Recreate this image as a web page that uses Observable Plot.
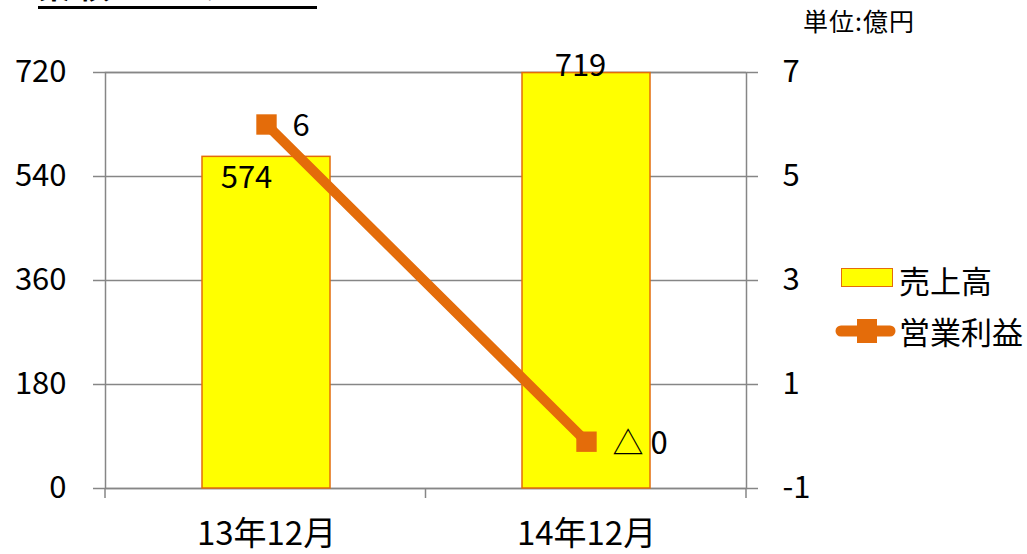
<!DOCTYPE html>
<html><head><meta charset="utf-8">
<script src="https://cdn.jsdelivr.net/npm/d3@7"></script>
<script src="https://cdn.jsdelivr.net/npm/@observablehq/plot@0.6"></script>
<style>
body{margin:0;background:#fff;}
#wrap{position:relative;width:1027px;height:554px;overflow:hidden;font-family:"Noto Sans CJK JP",sans-serif;color:#000;}
#wrap > svg{position:absolute;left:0;top:0;}
.abs{position:absolute;white-space:nowrap;}
#title{left:38px;top:-30px;height:36px;line-height:29px;font-size:32px;font-weight:bold;letter-spacing:8px;border-bottom:3px solid #000;}
#unit{left:803px;top:5px;font-size:25px;line-height:30px;letter-spacing:1px;}
.legtext{font-size:31px;line-height:36px;}
</style></head><body><div id="wrap"></div>
<script>
// ---- data ----
const categories = ["13年12月", "14年12月"];
const sales = [574, 719];            // 売上高 (left axis, 億円)
const profit = [6, -0.1];            // 営業利益 (right axis, 億円)
const leftTicks = [0, 180, 360, 540, 720];
const rightTicks = [-1, 1, 3, 5, 7];
const seriesNames = ["売上高", "営業利益"];
const unitLabel = "単位:億円";
const titleText = "業績ハイライト";

// ---- axis mapping (right axis drawn on the left scale) ----
const L_MIN = leftTicks[0], L_MAX = leftTicks[leftTicks.length - 1];
const R_MIN = rightTicks[0], R_MAX = rightTicks[rightTicks.length - 1];
const toLeft = p => L_MIN + (p - R_MIN) * (L_MAX - L_MIN) / (R_MAX - R_MIN);
const fromLeft = v => R_MIN + (v - L_MIN) * (R_MAX - R_MIN) / (L_MAX - L_MIN);

const rows = categories.map((c, i) => ({cat: c, sales: sales[i], profit: profit[i], py: toLeft(profit[i])}));
const fmtProfit = p => p < 0 ? "△ " + Math.abs(Math.round(p)) : String(Math.round(p));

const orange = "#E46C0A", grid = "#868686", yellow = "#FFFF00";
const font = '"Noto Sans CJK JP", sans-serif';

const bottomTicks = (index, scales, values, dims) => {
  const {width, height, marginLeft, marginRight, marginBottom} = dims;
  const y0 = height - marginBottom;
  const n = categories.length;
  const step = (width - marginLeft - marginRight) / n;
  const g = d3.create("svg:g");
  for (let k = 0; k <= n; k++) {
    const x = marginLeft + k * step;
    g.append("line").attr("x1", x).attr("x2", x).attr("y1", y0).attr("y2", y0 + 10)
      .attr("stroke", grid).attr("stroke-width", 1.5);
  }
  return g.node();
};

const chart = Plot.plot({
  width: 1027, height: 554,
  marginLeft: 105, marginRight: 281, marginTop: 72, marginBottom: 66,
  style: {fontFamily: font, fontSize: "31px", color: "#000", background: "transparent", overflow: "visible"},
  x: {domain: categories, paddingInner: 0.6, paddingOuter: 0.3, label: null},
  y: {domain: [L_MIN, L_MAX], label: null},
  marks: [
    Plot.gridY(leftTicks, {stroke: grid, strokeOpacity: 1, strokeWidth: 1.5}),
    Plot.frame({stroke: grid, strokeWidth: 1.5}),
    bottomTicks,
    Plot.axisY(leftTicks, {anchor: "left", tickSize: 12, tickPadding: 27, stroke: grid, strokeWidth: 1.5, fontSize: 31, label: null}),
    Plot.axisY(leftTicks, {anchor: "right", tickSize: 11, tickPadding: 25, stroke: grid, strokeWidth: 1.5, fontSize: 31, label: null,
      tickFormat: v => String(fromLeft(v))}),
    Plot.axisX({tickSize: 0, tickPadding: 33, fontSize: 33, label: null}),
    Plot.barY(rows, {x: "cat", y: "sales", fill: yellow, stroke: orange, strokeWidth: 1.5}),
    Plot.line(rows, {x: "cat", y: "py", stroke: orange, strokeWidth: 10}),
    Plot.dot(rows, {x: "cat", y: "py", symbol: "square", r: 11.5, fill: orange, stroke: null}),
    Plot.text(rows.filter((d, i) => i === 0), {x: "cat", y: "sales", text: d => String(d.sales), dx: -20, dy: 21, fontSize: 31}),
    Plot.text(rows.filter((d, i) => i === 1), {x: "cat", y: "sales", text: d => String(d.sales), dx: -6, dy: -7, fontSize: 31}),
    Plot.text(rows, {x: "cat", y: "py", text: d => fmtProfit(d.profit), textAnchor: "start", dx: 26, dy: 2, fontSize: 31})
  ]
});

const wrap = document.getElementById("wrap");
wrap.appendChild(chart);

function addDiv(cls, id, text, css) {
  const d = document.createElement("div");
  d.className = cls; if (id) d.id = id;
  d.textContent = text;
  Object.assign(d.style, css || {});
  wrap.appendChild(d);
  return d;
}
addDiv("abs", "title", titleText);
addDiv("abs", "unit", unitLabel);
// legend: 売上高
addDiv("abs", null, "", {left: "841px", top: "268px", width: "52px", height: "19px", background: yellow, border: "1.5px solid " + orange, boxSizing: "border-box"});
addDiv("abs legtext", null, seriesNames[0], {left: "899px", top: "262px"});
// legend: 営業利益
const lg = d3.select(wrap).append("svg").attr("class", "abs").attr("width", 80).attr("height", 40)
  .style("left", "825px").style("top", "311px");
lg.append("line").attr("x1", 16).attr("x2", 65).attr("y1", 20).attr("y2", 20)
  .attr("stroke", orange).attr("stroke-width", 11).attr("stroke-linecap", "round");
lg.append("rect").attr("x", 32).attr("y", 8).attr("width", 20).attr("height", 24).attr("fill", orange);
addDiv("abs legtext", null, seriesNames[1], {left: "899px", top: "313px"});
</script>
</body></html>
